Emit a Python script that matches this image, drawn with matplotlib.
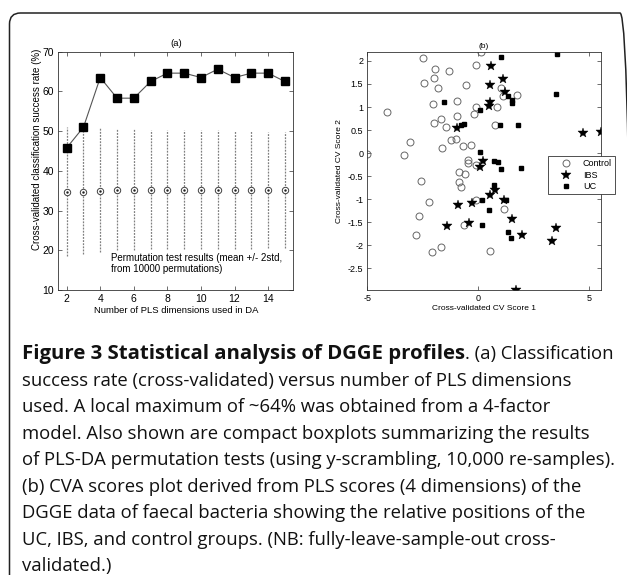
import matplotlib
matplotlib.use("Agg")
import matplotlib.pyplot as plt
import numpy as np
from matplotlib.patches import FancyBboxPatch
from matplotlib.ticker import FuncFormatter

plt.rcParams['axes.unicode_minus'] = False
plt.rcParams['font.family'] = ['Liberation Sans', 'DejaVu Sans']

# ---------------- Panel (a) data ----------------
pls_dims = [2, 3, 4, 5, 6, 7, 8, 9, 10, 11, 12, 13, 14, 15]
success_rate = [45.8, 51.0, 63.5, 58.3, 58.3, 62.5, 64.6, 64.6, 63.5, 65.6, 63.5, 64.6, 64.6, 62.5]
perm_mean = [34.6, 34.8, 34.9, 35.1, 35.1, 35.1, 35.1, 35.1, 35.1, 35.1, 35.1, 35.1, 35.1, 35.1]
perm_low = [18.5, 19.0, 19.5, 20.0, 20.0, 20.2, 20.2, 20.3, 20.3, 20.3, 20.4, 20.4, 20.5, 20.5]
perm_high = [51.0, 50.8, 50.7, 50.5, 50.5, 50.4, 50.4, 50.3, 50.2, 50.2, 50.1, 50.0, 49.9, 49.8]

# ---------------- Panel (b) data ----------------
control_x = [-2.48, 0.15, -1.93, -1.32, -0.07, -1.97, -2.43, -1.79, -0.55, -4.13,
             -2.03, -0.94, -0.10, -0.18, 0.86, 1.04, 1.13, 1.78, -1.67, -1.99,
             -0.97, -1.45, 0.78, -3.07, -1.22, -0.98, -1.64, -0.67, -0.32, -5.0,
             -3.35, -0.45, -0.45, -0.08, -0.87, -0.57, -2.56, -0.87, -0.75, -2.21,
             -0.07, 1.16, -2.67, -0.63, -2.80, -1.68, -2.09, 0.55]
control_y = [2.07, 2.20, 1.83, 1.79, 1.91, 1.62, 1.52, 1.42, 1.47, 0.89,
             1.06, 1.12, 0.99, 0.84, 1.00, 1.41, 1.23, 1.25, 0.74, 0.65,
             0.80, 0.56, 0.61, 0.25, 0.28, 0.30, 0.10, 0.16, 0.17, -0.02,
             -0.05, -0.15, -0.21, -0.25, -0.41, -0.46, -0.61, -0.62, -0.74, -1.07,
             -1.01, -1.22, -1.37, -1.55, -1.78, -2.03, -2.15, -2.12]
ibs_x = [0.60, 1.13, 0.54, 1.22, 0.56, 0.50, -0.93, 4.76, 5.54, 0.23, 0.07, 0.78,
         0.53, 1.17, -0.89, -0.27, -1.39, -0.41, 1.55, 1.99, 3.54, 3.34, 1.72]
ibs_y = [1.89, 1.60, 1.48, 1.33, 1.10, 1.03, 0.55, 0.43, 0.46, -0.18, -0.30, -0.81,
         -0.90, -1.02, -1.12, -1.09, -1.58, -1.51, -1.43, -1.77, -1.62, -1.91, -2.97]
uc_x = [1.04, 3.55, 1.37, 1.52, 1.52, 3.52, -1.55, 0.08, -0.77, -0.65, 0.98, 1.82,
        0.09, 0.72, 0.92, 1.94, 1.04, 0.71, 1.26, 0.19, 0.51, 0.17, 1.34, 1.48]
uc_y = [2.08, 2.15, 1.23, 1.15, 1.09, 1.28, 1.10, 0.93, 0.60, 0.63, 0.61, 0.62,
        0.02, -0.18, -0.20, -0.33, -0.35, -0.70, -1.02, -1.01, -1.24, -1.55, -1.71, -1.84]

W, H = 627, 575
fig = plt.figure(figsize=(W / 100, H / 100), dpi=100)


def fr(left, top, right, bottom):
    return [left / W, 1 - bottom / H, (right - left) / W, (bottom - top) / H]


def matlab_axes(ax, size):
    for s in ax.spines.values():
        s.set_linewidth(0.6)
        s.set_color('#333333')
    ax.tick_params(direction='in', top=True, right=True, length=3, width=0.5,
                   labelsize=size, color='#333333', pad=3)


gfmt = FuncFormatter(lambda v, p: ('%g' % v))

# ---------------- Panel (a) ----------------
axa = fig.add_axes(fr(58.3, 51.7, 293.3, 290))
axa.vlines(pls_dims, perm_low, perm_high, colors='#808080', linewidth=0.9,
           linestyles=(0, (1.5, 1.0)))
axa.plot(pls_dims, perm_mean, linestyle='none', marker='o', markersize=4.6,
         markerfacecolor='white', markeredgecolor='#404040', markeredgewidth=0.7)
axa.plot(pls_dims, perm_mean, linestyle='none', marker='.', markersize=1.5,
         color='#202020')
axa.plot(pls_dims, success_rate, color='#555555', linewidth=0.8, marker='s',
         markersize=5.2, markerfacecolor='black', markeredgecolor='black')
axa.set_xlim(1.5, 15.5)
axa.set_ylim(10, 70)
axa.set_xticks([2, 4, 6, 8, 10, 12, 14])
axa.set_yticks([10, 20, 30, 40, 50, 60, 70])
matlab_axes(axa, 7.5)
axa.set_title('(a)', fontsize=6.8, pad=4)
axa.set_xlabel('Number of PLS dimensions used in DA', fontsize=6.8, labelpad=1)
axa.set_ylabel('Cross-validated classification success rate (%)', fontsize=7)
axa.yaxis.set_label_coords(-0.07, 0.592)
axa.text(4.63, 16.7, 'Permutation test results (mean +/- 2std,\nfrom 10000 permutations)',
         fontsize=7, va='center', ha='left', linespacing=1.15)

# ---------------- Panel (b) ----------------
axb = fig.add_axes(fr(367.3, 51.7, 600.7, 290))
axb.plot(control_x, control_y, linestyle='none', marker='o', markersize=5.0,
         markerfacecolor='none', markeredgecolor='#666666', markeredgewidth=0.7,
         label='Control')
axb.plot(ibs_x, ibs_y, linestyle='none', marker='*', markersize=7.0,
         color='black', markeredgewidth=0.3, label='IBS')
axb.plot(uc_x, uc_y, linestyle='none', marker='s', markersize=3.2,
         color='black', label='UC')
axb.set_xlim(-5.0, 5.54)
axb.set_ylim(-2.97, 2.2)
axb.set_xticks([-5, 0, 5])
axb.set_yticks([-2.5, -2, -1.5, -1, -0.5, 0, 0.5, 1, 1.5, 2])
axb.xaxis.set_major_formatter(gfmt)
axb.yaxis.set_major_formatter(gfmt)
matlab_axes(axb, 6.5)
axb.set_title('(b)', fontsize=6, pad=3)
axb.set_xlabel('Cross-validated CV Score 1', fontsize=6, labelpad=1)
axb.set_ylabel('Cross-validated CV Score 2', fontsize=6, labelpad=3)
leg = axb.legend(loc='upper left', bbox_to_anchor=(547.7 / W, 1 - 156.3 / H),
                 bbox_transform=fig.transFigure, fontsize=6.5, frameon=True,
                 fancybox=False, edgecolor='#333333', borderpad=0.35,
                 handlelength=3.4, handletextpad=0.15, labelspacing=0.25,
                 borderaxespad=0, framealpha=1)
leg.get_frame().set_linewidth(0.6)
leg.set_zorder(10)
leg.set_clip_on(False)

# ---------------- Border ----------------
border = FancyBboxPatch((9.5 / 100, -0.3), (631 - 9.5) / 100, (575 - 13 + 30) / 100,
                        boxstyle='round,pad=0,rounding_size=0.11',
                        transform=fig.dpi_scale_trans, facecolor='none',
                        edgecolor='#222222', linewidth=1.1, clip_on=False)
fig.patches.append(border)

# ---------------- Caption ----------------
cap_font = ['Open Sans', 'DejaVu Sans']
cap_size = 13.3
x0 = 22 / W
base0 = 359.3
step = 26.46
lines = [
    None,
    'success rate (cross-validated) versus number of PLS dimensions',
    'used. A local maximum of ~64% was obtained from a 4-factor',
    'model. Also shown are compact boxplots summarizing the results',
    'of PLS-DA permutation tests (using y-scrambling, 10,000 re-samples).',
    '(b) CVA scores plot derived from PLS scores (4 dimensions) of the',
    'DGGE data of faecal bacteria showing the relative positions of the',
    'UC, IBS, and control groups. (NB: fully-leave-sample-out cross-',
    'validated.)',
]
renderer = fig.canvas.get_renderer()
t_rest = fig.text(0, 0, '. (a) Classification', fontsize=cap_size,
                  family=cap_font, va='baseline', ha='left', color='#111111')
rest_w = t_rest.get_window_extent(renderer=renderer).width
bold_size = cap_size
t_bold = fig.text(x0, 1 - base0 / H, 'Figure 3 Statistical analysis of DGGE profiles',
                  fontsize=bold_size, fontweight='bold', family=cap_font,
                  va='baseline', ha='left', color='#111111')
bw = t_bold.get_window_extent(renderer=renderer).width
target_bold_w = 617 - 22 - rest_w
bold_size = min(cap_size * 1.12, bold_size * target_bold_w / bw)
t_bold.set_fontsize(bold_size)
bb = t_bold.get_window_extent(renderer=renderer)
t_rest.set_position((bb.x1 / W, 1 - base0 / H))
for i, ln in enumerate(lines):
    if ln is None:
        continue
    fig.text(x0, 1 - (base0 + step * i) / H, ln, fontsize=cap_size, family=cap_font,
             va='baseline', ha='left', color='#111111')

fig.savefig('out.png', dpi=100)
